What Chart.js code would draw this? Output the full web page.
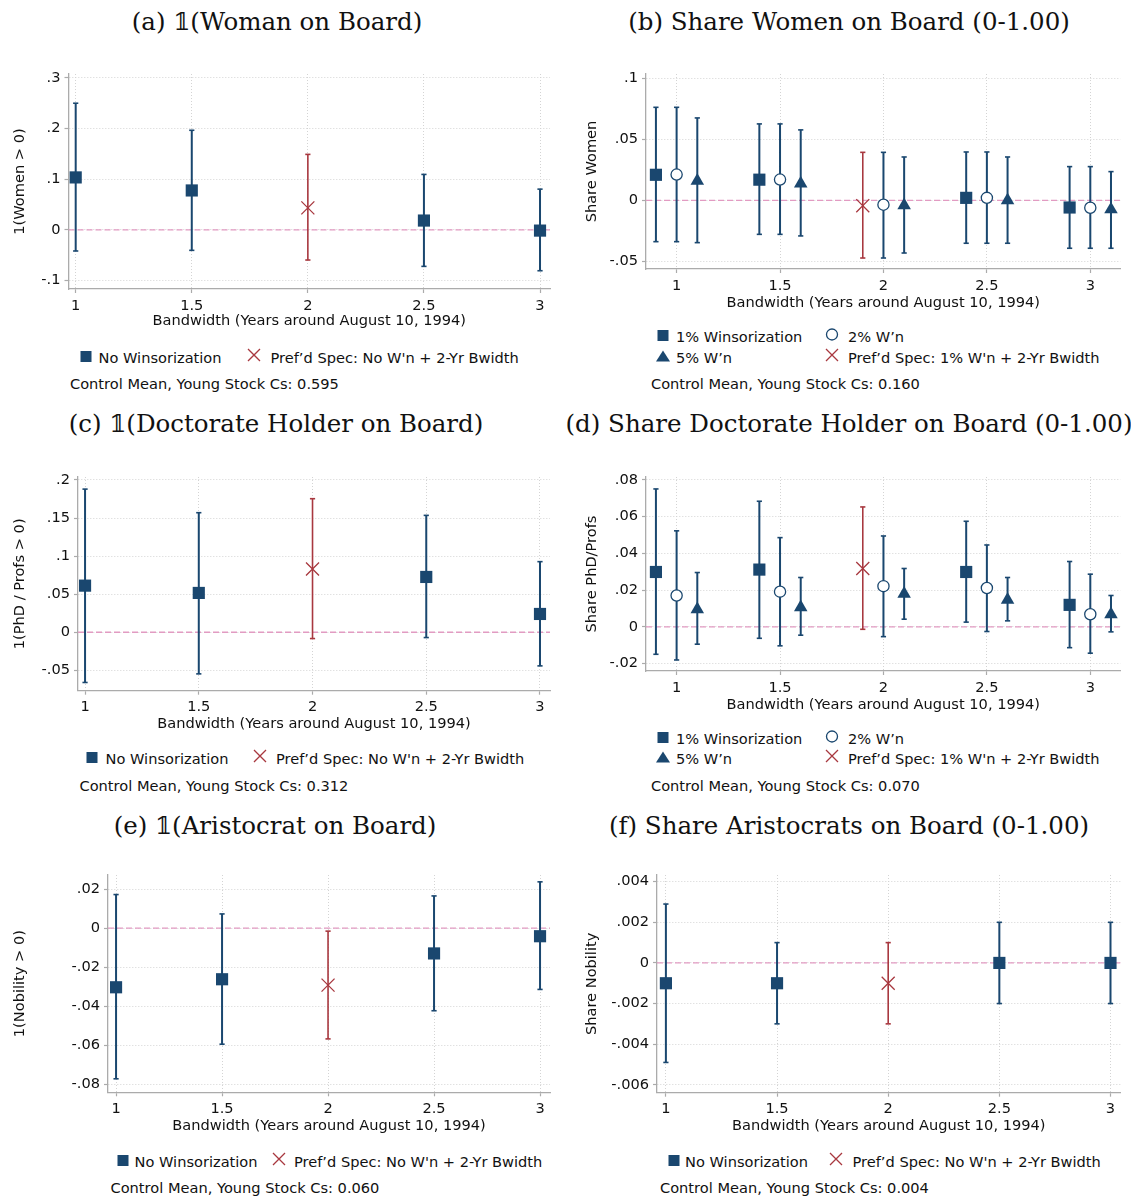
<!DOCTYPE html>
<html>
<head>
<meta charset="utf-8">
<script src="https://cdn.jsdelivr.net/npm/chart.js@4.4.1/dist/chart.umd.min.js"></script>
<style>
html,body{margin:0;padding:0;background:#fff;}
body{width:1131px;height:1199px;position:relative;overflow:hidden;font-family:"DejaVu Sans",Verdana,sans-serif;color:#111;}
canvas.cv{position:absolute;}
.ttl{position:absolute;font-family:"DejaVu Serif","Liberation Serif",serif;font-size:24.5px;white-space:nowrap;transform:translate(-50%,-50%);line-height:1.2;color:#111;}
.leg{position:absolute;font-size:14.6px;white-space:nowrap;transform:translateY(-50%);line-height:17px;color:#111;}
.sym{position:absolute;transform:translate(-50%,-50%);display:block;}
</style>
</head>
<body>
<script>
// ---------------- DATA ----------------
const bandwidths = [1, 1.5, 2, 2.5, 3];
const prefBandwidth = 2;
const xTickValues = [1, 1.5, 2, 2.5, 3];
const xTickLabels = ['1', '1.5', '2', '2.5', '3'];
const winsorOffsets = [-0.1, 0, 0.1]; // 1%, 2%, 5% series shifted around each bandwidth

// (a) 1(Woman on Board)
const aEst = [0.1035, 0.0778, 0.0435, 0.0185, -0.0013];
const aLo  = [-0.0415, -0.0402, -0.0593, -0.0718, -0.0804];
const aHi  = [0.2497, 0.1964, 0.1489, 0.1094, 0.0804];
const aYTicks = [-0.1, 0, 0.1, 0.2, 0.3];
const aYTickLabels = ['-.1', '0', '.1', '.2', '.3'];

// (b) Share Women on Board
const bEst1 = [0.0209, 0.0169, -0.0044, 0.0020, -0.0059];
const bLo1  = [-0.0339, -0.0279, -0.0473, -0.0352, -0.0393];
const bHi1  = [0.0762, 0.0626, 0.0393, 0.0396, 0.0276];
const bEst2 = [0.0211, 0.0170, -0.0036, 0.0020, -0.0061];
const bLo2  = [-0.0339, -0.0279, -0.0473, -0.0352, -0.0393];
const bHi2  = [0.0762, 0.0626, 0.0393, 0.0396, 0.0276];
const bEst5 = [0.0159, 0.0137, -0.0042, -0.0001, -0.0075];
const bLo5  = [-0.0347, -0.0292, -0.0432, -0.0352, -0.0393];
const bHi5  = [0.0675, 0.0577, 0.0355, 0.0355, 0.0235];
const bYTicks = [-0.05, 0, 0.05, 0.1];
const bYTickLabels = ['-.05', '0', '.05', '.1'];

// (c) 1(Doctorate Holder on Board)
const cEst = [0.0612, 0.0516, 0.0831, 0.0726, 0.0240];
const cLo  = [-0.0660, -0.0547, -0.0083, -0.0070, -0.0442];
const cHi  = [0.1880, 0.1570, 0.1754, 0.1535, 0.0927];
const cYTicks = [-0.05, 0, 0.05, 0.1, 0.15, 0.2];
const cYTickLabels = ['-.05', '0', '.05', '.1', '.15', '.2'];

// (d) Share Doctorate Holder on Board
const dEst1 = [0.0299, 0.0312, 0.0318, 0.0299, 0.0120];
const dLo1  = [-0.0149, -0.0062, -0.0013, 0.0026, -0.0113];
const dHi1  = [0.0751, 0.0684, 0.0653, 0.0575, 0.0356];
const dEst2 = [0.0171, 0.0192, 0.0222, 0.0212, 0.0069];
const dLo2  = [-0.0180, -0.0103, -0.0053, -0.0025, -0.0143];
const dHi2  = [0.0523, 0.0486, 0.0495, 0.0446, 0.0287];
const dEst5 = [0.0096, 0.0107, 0.0180, 0.0147, 0.0069];
const dLo5  = [-0.0094, -0.0045, 0.0042, 0.0033, -0.0027];
const dHi5  = [0.0296, 0.0269, 0.0318, 0.0269, 0.0171];
const dYTicks = [-0.02, 0, 0.02, 0.04, 0.06, 0.08];
const dYTickLabels = ['-.02', '0', '.02', '.04', '.06', '.08'];

// (e) 1(Aristocrat on Board)
const eEst = [-0.0302, -0.0261, -0.0291, -0.0129, -0.0041];
const eLo  = [-0.0770, -0.0593, -0.0566, -0.0422, -0.0313];
const eHi  = [0.0172, 0.0073, -0.0015, 0.0165, 0.0237];
const eYTicks = [-0.08, -0.06, -0.04, -0.02, 0, 0.02];
const eYTickLabels = ['-.08', '-.06', '-.04', '-.02', '0', '.02'];

// (f) Share Aristocrats on Board
const fEst = [-0.001, -0.001, -0.001, 0, 0];
const fLo  = [-0.0049, -0.003, -0.003, -0.002, -0.002];
const fHi  = [0.0029, 0.001, 0.001, 0.002, 0.002];
const fYTicks = [-0.006, -0.004, -0.002, 0, 0.002, 0.004];
const fYTickLabels = ['-.006', '-.004', '-.002', '0', '.002', '.004'];

const controlMeans = ['0.595', '0.160', '0.312', '0.070', '0.060', '0.004'];

// ---------------- STYLE ----------------
const NAVY = '#1a476f';
const RED = '#a8383f';
const PINK = '#e29bc2';
const GRID = '#d4d4d4';
const AXIS = '#ababab';
const TXT = '#111111';
const FONT = '"DejaVu Sans", Verdana, sans-serif';
const FS = 14.6;
const LH = FS * 1.2;

const markerStyles = {
  rect:     {pointStyle: 'rect', pointRadius: 8.6, backgroundColor: NAVY, borderColor: NAVY, borderWidth: 0},
  circle:   {pointStyle: 'circle', pointRadius: 5.6, backgroundColor: '#ffffff', borderColor: NAVY, borderWidth: 1.3},
  triangle: {pointStyle: 'triangle', pointRadius: 7.8, backgroundColor: NAVY, borderColor: NAVY, borderWidth: 0},
  pref:     {pointStyle: 'crossRot', pointRadius: 9.2, backgroundColor: RED, borderColor: RED, borderWidth: 1.3}
};

function ciDataset(points, color, width) {
  return {
    type: 'line', data: points, showLine: true, spanGaps: false,
    borderColor: color, borderWidth: width,
    pointStyle: 'line', pointRadius: 2.6, pointBorderWidth: 1.6,
    pointBorderColor: color, pointBackgroundColor: color,
    order: 2, clip: false
  };
}

function makePanel(p) {
  const cv = document.createElement('canvas');
  cv.className = 'cv';
  const ch = p.cBottom - p.cTop;
  cv.width = p.cw; cv.height = ch;
  cv.style.left = p.cx + 'px'; cv.style.top = p.cTop + 'px';
  cv.style.width = p.cw + 'px'; cv.style.height = ch + 'px';
  document.body.appendChild(cv);

  const datasets = [];
  datasets.push({
    type: 'line', data: [{x: p.xMin, y: 0}, {x: p.xMax, y: 0}],
    borderColor: PINK, borderWidth: 1.3, borderDash: [6, 3], pointRadius: 0, order: 5
  });
  p.series.forEach(s => {
    const ciN = [], ciR = [], pts = [], pref = [];
    s.est.forEach((v, i) => {
      const x = bandwidths[i] + s.off;
      const isPref = s.pref && bandwidths[i] === prefBandwidth;
      (isPref ? ciR : ciN).push({x: x, y: s.lo[i]}, {x: x, y: s.hi[i]}, {x: x, y: null});
      (isPref ? pref : pts).push({x: x, y: v});
    });
    datasets.push(ciDataset(ciN, NAVY, 2));
    if (ciR.length) datasets.push(ciDataset(ciR, RED, 1.6));
    datasets.push(Object.assign({type: 'scatter', data: pts, order: 0, clip: false}, markerStyles[s.style]));
    if (pref.length) datasets.push(Object.assign({type: 'scatter', data: pref, order: 0, clip: false}, markerStyles.pref));
  });

  const yAxisW = p.left - p.cx;
  const xAxisH = p.cBottom - p.bottom;
  const yTitlePad = p.yTitleX - p.cx - LH / 2;
  const xTitlePad = p.cBottom - p.xTitleY - LH / 2;

  new Chart(cv, {
    type: 'scatter',
    data: {datasets: datasets},
    options: {
      responsive: false, animation: false, devicePixelRatio: 1,
      layout: {padding: {left: 0, top: p.top - p.cTop, right: p.cx + p.cw - p.right, bottom: 0}},
      plugins: {legend: {display: false}, tooltip: {enabled: false}},
      scales: {
        x: {
          type: 'linear', min: p.xMin, max: p.xMax,
          afterBuildTicks: sc => { sc.ticks = xTickValues.map(v => ({value: v})); },
          afterFit: sc => { sc.height = xAxisH; },
          ticks: {callback: (v, i) => xTickLabels[i], font: {size: FS, family: FONT}, color: TXT,
                  padding: 4, maxRotation: 0, minRotation: 0, autoSkip: false},
          grid: {color: GRID, lineWidth: 1, tickLength: 4, tickColor: AXIS, tickWidth: 1.2},
          border: {color: AXIS, width: 1.3, dash: [1, 2]},
          title: {display: true, text: 'Bandwidth (Years around August 10, 1994)',
                  font: {size: FS, family: FONT}, color: TXT, padding: {top: 0, bottom: xTitlePad}}
        },
        y: {
          type: 'linear', min: p.yMin, max: p.yMax,
          afterBuildTicks: sc => { sc.ticks = p.yTicks.map(v => ({value: v})); },
          afterFit: sc => { sc.width = yAxisW; },
          ticks: {callback: (v, i) => p.yLabels[i], font: {size: FS, family: FONT}, color: TXT,
                  padding: 4, autoSkip: false},
          grid: {color: GRID, lineWidth: 1, tickLength: 4, tickColor: AXIS, tickWidth: 1.2},
          border: {color: AXIS, width: 1.3, dash: [1, 2]},
          title: {display: true, text: p.yTitle, font: {size: FS, family: FONT}, color: TXT,
                  padding: {top: yTitlePad, bottom: 0}}
        }
      }
    }
  });
}

const ns = 'http://www.w3.org/2000/svg';
function addSym(type, x, y) {
  let svg;
  if (type === 'square') {
    svg = '<svg xmlns="' + ns + '" width="12" height="12"><rect x="0.5" y="0.5" width="11" height="11" fill="' + NAVY + '"/></svg>';
  } else if (type === 'circle') {
    svg = '<svg xmlns="' + ns + '" width="14" height="14"><circle cx="7" cy="7" r="5.5" fill="none" stroke="' + NAVY + '" stroke-width="1.3"/></svg>';
  } else if (type === 'triangle') {
    svg = '<svg xmlns="' + ns + '" width="16" height="13"><polygon points="1,12 15,12 8,1" fill="' + NAVY + '"/></svg>';
  } else {
    svg = '<svg xmlns="' + ns + '" width="15" height="15"><path d="M1.5,1.5 L13.5,13.5 M13.5,1.5 L1.5,13.5" stroke="' + RED + '" stroke-width="1.3" fill="none"/></svg>';
  }
  const d = document.createElement('div');
  d.className = 'sym';
  d.style.left = x + 'px'; d.style.top = y + 'px';
  d.innerHTML = svg;
  document.body.appendChild(d);
}
function addText(cls, text, x, y) {
  const d = document.createElement('div');
  d.className = cls;
  d.textContent = text;
  d.style.left = x + 'px'; d.style.top = y + 'px';
  document.body.appendChild(d);
}

// ---------------- PANELS ----------------
const panels = [
  {cx: 0, cw: 565, cTop: 58, cBottom: 334, left: 68.5, right: 550, top: 74, bottom: 289,
   xMin: 0.969, xMax: 3.043, yMin: -0.1164, yMax: 0.3073, yTicks: aYTicks, yLabels: aYTickLabels,
   yTitle: '1(Women > 0)', yTitleX: 20.5, xTitleY: 321.7,
   series: [{est: aEst, lo: aLo, hi: aHi, off: 0, style: 'rect', pref: true}]},
  {cx: 565, cw: 566, cTop: 58, cBottom: 314, left: 646, right: 1121, top: 74, bottom: 269,
   xMin: 0.852, xMax: 3.146, yMin: -0.0563, yMax: 0.1035, yTicks: bYTicks, yLabels: bYTickLabels,
   yTitle: 'Share Women', yTitleX: 592, xTitleY: 303.3,
   series: [{est: bEst1, lo: bLo1, hi: bHi1, off: winsorOffsets[0], style: 'rect', pref: true},
            {est: bEst2, lo: bLo2, hi: bHi2, off: winsorOffsets[1], style: 'circle'},
            {est: bEst5, lo: bLo5, hi: bHi5, off: winsorOffsets[2], style: 'triangle'}]},
  {cx: 0, cw: 565, cTop: 461, cBottom: 736, left: 78, right: 550, top: 477, bottom: 690.7,
   xMin: 0.969, xMax: 3.044, yMin: -0.0768, yMax: 0.2039, yTicks: cYTicks, yLabels: cYTickLabels,
   yTitle: '1(PhD / Profs > 0)', yTitleX: 20.5, xTitleY: 724,
   series: [{est: cEst, lo: cLo, hi: cHi, off: 0, style: 'rect', pref: true}]},
  {cx: 565, cw: 566, cTop: 461, cBottom: 716, left: 646, right: 1121, top: 477, bottom: 671,
   xMin: 0.852, xMax: 3.146, yMin: -0.024, yMax: 0.0816, yTicks: dYTicks, yLabels: dYTickLabels,
   yTitle: 'Share PhD/Profs', yTitleX: 592, xTitleY: 705,
   series: [{est: dEst1, lo: dLo1, hi: dHi1, off: winsorOffsets[0], style: 'rect', pref: true},
            {est: dEst2, lo: dLo2, hi: dHi2, off: winsorOffsets[1], style: 'circle'},
            {est: dEst5, lo: dLo5, hi: dHi5, off: winsorOffsets[2], style: 'triangle'}]},
  {cx: 0, cw: 565, cTop: 859, cBottom: 1138, left: 108, right: 550, top: 875, bottom: 1092.3,
   xMin: 0.962, xMax: 3.047, yMin: -0.0839, yMax: 0.0272, yTicks: eYTicks, yLabels: eYTickLabels,
   yTitle: '1(Nobility > 0)', yTitleX: 20.5, xTitleY: 1126,
   series: [{est: eEst, lo: eLo, hi: eHi, off: 0, style: 'rect', pref: true}]},
  {cx: 565, cw: 566, cTop: 859, cBottom: 1138, left: 657, right: 1121, top: 875, bottom: 1092.7,
   xMin: 0.960, xMax: 3.045, yMin: -0.00639, yMax: 0.00433, yTicks: fYTicks, yLabels: fYTickLabels,
   yTitle: 'Share Nobility', yTitleX: 592, xTitleY: 1126,
   series: [{est: fEst, lo: fLo, hi: fHi, off: 0, style: 'rect', pref: true}]}
];
panels.forEach(makePanel);

// Titles
const titles = [
  ['(a) \u{1D7D9}(Woman on Board)', 277, 22],
  ['(b) Share Women on Board (0-1.00)', 849, 22],
  ['(c) \u{1D7D9}(Doctorate Holder on Board)', 276, 424],
  ['(d) Share Doctorate Holder on Board (0-1.00)', 849, 424],
  ['(e) \u{1D7D9}(Aristocrat on Board)', 275, 826],
  ['(f) Share Aristocrats on Board (0-1.00)', 849, 826]
];
titles.forEach(t => addText('ttl', t[0], t[1], t[2]));

// Legends (single-series panels)
const noteText = v => 'Control Mean, Young Stock Cs: ' + v;
const singleLegends = [
  {y: 356.5, sq: 86.3, sqT: 98.5, x: 254, xT: 270.5, nx: 70, ny: 382.5, cm: controlMeans[0]},
  {y: 758.3, sq: 92.3, sqT: 105.5, x: 259.5, xT: 276, nx: 79.5, ny: 785, cm: controlMeans[2]},
  {y: 1160.7, sq: 122.5, sqT: 134.5, x: 278.5, xT: 294, nx: 110.5, ny: 1186.7, cm: controlMeans[4]},
  {y: 1161, sq: 673.5, sqT: 685, x: 836, xT: 852.5, nx: 660, ny: 1187, cm: controlMeans[5]}
];
singleLegends.forEach(L => {
  addSym('square', L.sq, L.y);
  addText('leg', 'No Winsorization', L.sqT, L.y);
  addSym('x', L.x, L.y);
  addText('leg', 'Pref\u2019d Spec: No W\'n + 2-Yr Bwidth', L.xT, L.y);
  addText('leg', noteText(L.cm), L.nx, L.ny);
});
// Legends (three-series panels)
const multiLegends = [
  {y1: 336, y2: 356.5, ny: 383, cm: controlMeans[1]},
  {y1: 737.7, y2: 758.3, ny: 785, cm: controlMeans[3]}
];
multiLegends.forEach(L => {
  addSym('square', 663, L.y1);
  addText('leg', '1% Winsorization', 676, L.y1);
  addSym('circle', 831.5, L.y1);
  addText('leg', '2% W\u2019n', 848, L.y1);
  addSym('triangle', 663, L.y2);
  addText('leg', '5% W\u2019n', 676, L.y2);
  addSym('x', 831.7, L.y2);
  addText('leg', 'Pref\u2019d Spec: 1% W\'n + 2-Yr Bwidth', 848, L.y2);
  addText('leg', noteText(L.cm), 651, L.ny);
});
</script>
</body>
</html>
